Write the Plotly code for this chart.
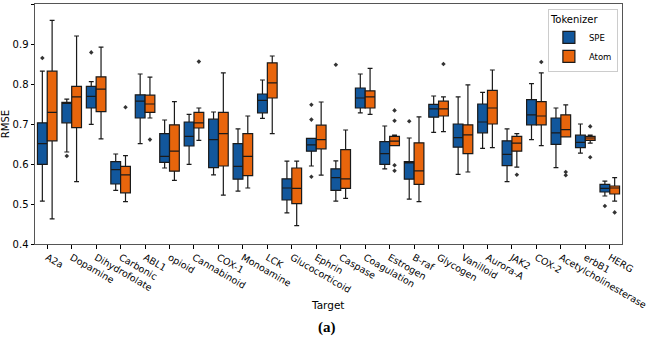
import numpy as np
import plotly.graph_objects as go

targets = ["A2a", "Dopamine", "Dihydrofolate", "Carbonic", "ABL1", "opioid", "Cannabinoid",
           "COX-1", "Monoamine", "LCK", "Glucocorticoid", "Ephrin", "Caspase", "Coagulation",
           "Estrogen", "B-raf", "Glycogen", "Vanilloid", "Aurora-A", "JAK2", "COX-2",
           "Acetylcholinesterase", "erbB1", "HERG"]

# SPE tokenizer box statistics
spe_low = [0.507, 0.630, 0.699, 0.534, 0.651, 0.590, 0.599, 0.573, 0.532, 0.714, 0.478, 0.595,
           0.507, 0.728, 0.588, 0.512, 0.679, 0.574, 0.639, 0.556, 0.661, 0.591, 0.627, 0.520]
spe_q1 = [0.599, 0.703, 0.740, 0.550, 0.715, 0.604, 0.645, 0.591, 0.562, 0.728, 0.510, 0.632,
          0.534, 0.740, 0.599, 0.562, 0.717, 0.642, 0.678, 0.596, 0.698, 0.649, 0.641, 0.530]
spe_med = [0.651, 0.752, 0.769, 0.586, 0.757, 0.619, 0.669, 0.661, 0.594, 0.759, 0.540, 0.648,
           0.566, 0.765, 0.626, 0.603, 0.738, 0.666, 0.705, 0.624, 0.723, 0.678, 0.654, 0.539]
spe_q3 = [0.703, 0.754, 0.794, 0.606, 0.773, 0.676, 0.705, 0.712, 0.651, 0.775, 0.563, 0.664,
          0.588, 0.790, 0.656, 0.606, 0.749, 0.700, 0.750, 0.658, 0.761, 0.715, 0.672, 0.549]
spe_high = [0.832, 0.762, 0.806, 0.625, 0.825, 0.710, 0.724, 0.730, 0.688, 0.810, 0.607, 0.664,
            0.608, 0.825, 0.695, 0.665, 0.770, 0.768, 0.779, 0.688, 0.801, 0.740, 0.700, 0.557]
spe_out_target = ["A2a", "Dopamine", "Dihydrofolate", "Ephrin", "Ephrin", "Ephrin", "Caspase",
                  "B-raf", "HERG"]
spe_out_value = [0.865, 0.620, 0.879, 0.748, 0.711, 0.568, 0.848, 0.707, 0.495]

# Atom tokenizer box statistics
atom_low = [0.463, 0.556, 0.663, 0.506, 0.715, 0.559, 0.659, 0.522, 0.540, 0.676, 0.446, 0.572,
            0.514, 0.724, 0.646, 0.506, 0.681, 0.580, 0.641, 0.592, 0.646, 0.668, 0.652, 0.507]
atom_q1 = [0.658, 0.691, 0.731, 0.528, 0.729, 0.582, 0.690, 0.595, 0.571, 0.765, 0.501, 0.638,
           0.539, 0.740, 0.646, 0.549, 0.720, 0.626, 0.700, 0.632, 0.698, 0.668, 0.659, 0.525]
atom_med = [0.729, 0.768, 0.787, 0.573, 0.750, 0.632, 0.703, 0.676, 0.619, 0.803, 0.539, 0.661,
            0.563, 0.768, 0.657, 0.583, 0.738, 0.673, 0.740, 0.652, 0.720, 0.686, 0.665, 0.540]
atom_q3 = [0.832, 0.794, 0.818, 0.594, 0.772, 0.698, 0.729, 0.729, 0.676, 0.853, 0.590, 0.697,
           0.636, 0.783, 0.669, 0.653, 0.757, 0.698, 0.784, 0.669, 0.756, 0.723, 0.669, 0.545]
atom_high = [0.959, 0.920, 0.892, 0.621, 0.817, 0.756, 0.740, 0.828, 0.720, 0.870, 0.607, 0.755,
             0.685, 0.839, 0.672, 0.718, 0.768, 0.798, 0.835, 0.676, 0.828, 0.748, 0.672, 0.566]
atom_out_target = ["Carbonic", "ABL1", "Cannabinoid", "Estrogen", "Estrogen", "Estrogen",
                   "Estrogen", "Glycogen", "JAK2", "COX-2", "Acetylcholinesterase",
                   "Acetylcholinesterase", "erbB1", "erbB1", "HERG"]
atom_out_value = [0.742, 0.661, 0.856, 0.734, 0.708, 0.597, 0.583, 0.850, 0.573, 0.855, 0.580,
                  0.572, 0.694, 0.617, 0.479]

y_ticks = [0.4, 0.5, 0.6, 0.7, 0.8, 0.9, 1.0]

SPE_COLOR = "#12579c"
ATOM_COLOR = "#e8650c"
EDGE = "#1a1a1a"
idx = {t: i for i, t in enumerate(targets)}
base = np.arange(len(targets))
off = 0.2

fig = go.Figure()
for name, color, sign, lo, q1, med, q3, hi, ot, ov in [
    ("SPE", SPE_COLOR, -1, spe_low, spe_q1, spe_med, spe_q3, spe_high, spe_out_target, spe_out_value),
    ("Atom", ATOM_COLOR, 1, atom_low, atom_q1, atom_med, atom_q3, atom_high, atom_out_target, atom_out_value),
]:
    fig.add_trace(go.Box(
        x=base + sign * off, q1=q1, median=med, q3=q3, lowerfence=lo, upperfence=hi,
        width=0.4, whiskerwidth=0.5, fillcolor=color, name=name,
        line=dict(color=EDGE, width=1.2), boxpoints=False, hoverinfo="skip",
    ))
    fig.add_trace(go.Scatter(
        x=[idx[t] + sign * off for t in ot], y=ov, mode="markers", showlegend=False,
        marker=dict(symbol="diamond", size=3.5, color="#333333"), hoverinfo="skip",
    ))

fig.update_layout(
    width=651, height=345,
    margin=dict(l=30, r=29, t=3, b=101),
    paper_bgcolor="white", plot_bgcolor="white",
    font=dict(family="DejaVu Sans", size=10, color="black"),
    showlegend=True,
    legend=dict(
        title=dict(text="Tokenizer", font=dict(size=10)), x=0.993, y=0.98,
        xanchor="right", yanchor="top", bordercolor="#cccccc", borderwidth=1,
        bgcolor="white", font=dict(size=8.5), itemwidth=30, tracegroupgap=0,
    ),
)
fig.update_xaxes(
    range=[-0.5, len(targets) - 0.5], tickmode="array", tickvals=base, ticktext=targets,
    tickangle=30, ticks="outside", ticklen=3.5, tickcolor="black", showline=True,
    linecolor="#555555", linewidth=1, mirror=True, showgrid=False, zeroline=False,
    tickfont=dict(size=9.5),
)
fig.update_yaxes(
    range=[0.4, 1.0], tickmode="array", tickvals=y_ticks,
    ticktext=[f"{v:.1f}" for v in y_ticks], ticks="outside", ticklen=3.5, tickcolor="black",
    showline=True, linecolor="#555555", linewidth=1, mirror=True, showgrid=False,
    zeroline=False, tickfont=dict(size=10),
    title=dict(text="RMSE", font=dict(size=10), standoff=3),
)
fig.add_annotation(text="Target", x=0.498, y=-0.286, xref="paper", yref="paper",
                   showarrow=False, font=dict(size=10.5, family="DejaVu Sans"))
fig.add_annotation(text="<b>(a)</b>", x=0.498, y=-0.39, xref="paper", yref="paper",
                   showarrow=False, font=dict(size=15, family="Liberation Serif"))
fig.write_html("out.html")
